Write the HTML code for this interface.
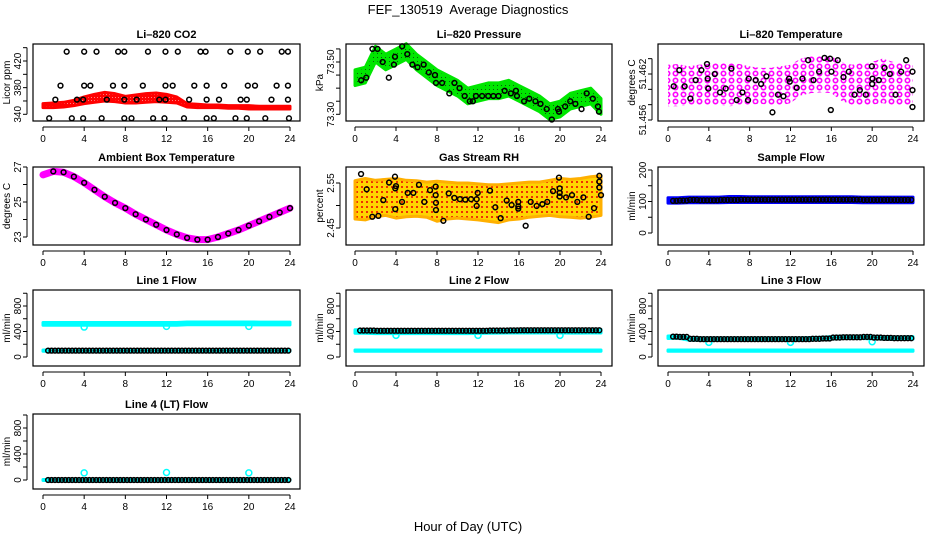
<!DOCTYPE html>
<html><head><meta charset="utf-8"><title>FEF_130519 Average Diagnostics</title>
<style>
html,body{margin:0;padding:0;background:#fff;}
svg{display:block;font-family:"Liberation Sans",Arial,sans-serif;}
.ttl{font-size:11px;font-weight:bold;text-anchor:middle;}
.tk{font-size:10px;text-anchor:middle;}
.yl{font-size:10px;text-anchor:middle;}
</style></head>
<body>
<svg id="chart" width="936" height="540" viewBox="0 0 936 540" xmlns="http://www.w3.org/2000/svg">
<defs>
<pattern id="patGreen" width="4" height="4" patternUnits="userSpaceOnUse"><rect width="4" height="4" fill="#00e600"/><rect x="1" y="1" width="1" height="1" fill="#0a5a0a"/></pattern>
<pattern id="patMag" width="8" height="7" patternUnits="userSpaceOnUse"><rect width="8" height="7" fill="#fff"/><circle cx="3.5" cy="3.5" r="2.2" fill="none" stroke="#ff00ff" stroke-width="1.6"/></pattern>
<pattern id="patRH" width="5" height="5" patternUnits="userSpaceOnUse"><rect width="5" height="5" fill="#ffd400"/><rect x="1" y="1" width="2" height="2" fill="#f03000"/></pattern>
<pattern id="patRed" width="3" height="3" patternUnits="userSpaceOnUse"><rect width="3" height="3" fill="#ff0000"/><rect x="1" y="1" width="1" height="1" fill="#ff8080"/></pattern>
</defs>
<text x="468" y="14" text-anchor="middle" font-size="13">FEF_130519&#160; Average Diagnostics</text>
<text x="468" y="531" text-anchor="middle" font-size="13">Hour of Day (UTC)</text>
</svg>
<script>
// ---------- data ----------
const hourTicks=[0,4,8,12,16,20,24];
const bandHours=[0,1,2,3,4,5,6,7,8,9,10,11,12,13,14,15,16,17,18,19,20,21,22,23,24];
// CO2
const co2BandLo=[350,350,351,353,356,358,360,359,357,357,358,359,358,357,351,350,350,350,349,349,348,348,348,348,348];
const co2BandHi=[356,357,358,361,366,370,373,371,367,369,371,372,370,366,356,355,354,354,353,353,353,352,352,352,352];
const co2TopH=[2.3,4.0,5.2,7.3,7.9,10.2,11.9,13.1,15.3,15.8,18.2,19.9,21.1,23.2,23.8];
const co2MidH=[1.7,4.0,4.6,6.8,7.9,9.7,11.9,12.6,14.7,15.9,17.6,19.9,20.6,22.7,23.8];
const co2LowH=[1.2,3.3,3.9,6.2,7.9,9.1,11.3,11.9,14.2,15.9,17.1,19.2,19.8,22.2,23.8];
const co2BotH=[0.6,2.8,3.9,5.7,7.9,8.6,10.7,11.8,13.7,15.9,16.6,18.7,19.8,21.6,23.9];
const co2Levels=[434,383,362,334];
// Pressure
const presBandCenter=[73.44,73.45,73.53,73.50,73.52,73.54,73.50,73.47,73.44,73.42,73.40,73.37,73.38,73.39,73.39,73.40,73.38,73.36,73.34,73.31,73.32,73.35,73.36,73.37,73.33];
const presBandHalf=0.03;
const presH=[0.6,1.1,1.7,2.2,2.7,3.3,3.8,3.9,4.6,5.1,5.6,6.1,6.7,7.2,7.8,7.9,8.5,9.2,9.7,10.2,10.7,11.2,11.5,11.8,12.4,13.0,13.5,14.0,14.6,15.2,15.7,15.8,16.5,17.0,17.6,18.1,18.7,19.2,19.8,19.9,20.5,21.0,21.5,22.1,22.6,23.2,23.7,23.8];
const presV=[73.43,73.44,73.55,73.55,73.50,73.44,73.49,73.52,73.56,73.53,73.49,73.48,73.49,73.46,73.45,73.42,73.42,73.38,73.42,73.40,73.37,73.35,73.35,73.37,73.37,73.37,73.37,73.37,73.39,73.38,73.39,73.37,73.35,73.36,73.35,73.34,73.32,73.28,73.32,73.31,73.33,73.35,73.34,73.32,73.38,73.36,73.33,73.31];
// Li-820 temperature
const tempBandLo=[51.4578,51.4578,51.4579,51.4580,51.4580,51.4579,51.4578,51.4579,51.4580,51.4581,51.4580,51.4579,51.4582,51.4592,51.4595,51.4596,51.4595,51.4585,51.4580,51.4579,51.4580,51.4582,51.4580,51.4579,51.4580];
const tempBandHi=[51.4632,51.4633,51.4630,51.4632,51.4633,51.4634,51.4634,51.4633,51.4630,51.4628,51.4628,51.4630,51.4632,51.4640,51.4643,51.4644,51.4643,51.4636,51.4632,51.4634,51.4636,51.4640,51.4636,51.4633,51.4632];
const tempH=[0.56,1.11,1.63,2.19,2.71,3.27,3.82,3.89,3.95,4.58,5.10,5.65,6.21,6.73,7.29,7.84,7.91,8.59,9.12,9.64,10.23,10.78,11.31,11.86,11.93,12.61,13.17,13.73,14.25,14.80,15.33,15.88,15.95,16.01,16.63,17.19,17.71,18.27,18.79,19.38,19.97,20.00,20.03,20.65,21.21,21.73,22.29,22.84,23.33,23.95,23.95,23.95];
const tempV=[51.4604,51.4625,51.4604,51.4588,51.4612,51.4625,51.4633,51.4614,51.4601,51.4620,51.4596,51.4601,51.4627,51.4586,51.4596,51.4586,51.4614,51.4612,51.4607,51.4617,51.4570,51.4593,51.4591,51.4614,51.4610,51.4602,51.4614,51.4638,51.4612,51.4623,51.4641,51.4640,51.4573,51.4623,51.4638,51.4616,51.4623,51.4593,51.4599,51.4593,51.4630,51.4607,51.4614,51.4612,51.4628,51.4620,51.4593,51.4623,51.4638,51.4623,51.4599,51.4577];
// Ambient box temperature
const ambTemp=[26.55,26.75,26.7,26.45,26.1,25.7,25.3,24.95,24.65,24.3,24.0,23.7,23.4,23.15,22.95,22.85,22.85,23.0,23.2,23.4,23.65,23.9,24.15,24.4,24.65];
// Gas stream RH
const rhBandLo=[2.470,2.468,2.475,2.478,2.472,2.475,2.476,2.474,2.465,2.470,2.472,2.470,2.468,2.465,2.462,2.468,2.470,2.474,2.476,2.478,2.475,2.474,2.472,2.474,2.478];
const rhBandHi=[2.555,2.560,2.556,2.558,2.560,2.556,2.555,2.552,2.554,2.552,2.550,2.550,2.548,2.546,2.546,2.548,2.550,2.552,2.552,2.556,2.560,2.558,2.560,2.564,2.566];
const rhH=[0.59,1.14,1.69,2.28,2.76,3.32,3.90,3.93,3.93,4.00,4.59,5.14,5.69,6.24,6.76,7.32,7.87,7.87,7.90,7.90,8.62,9.14,9.69,10.24,10.76,11.32,11.87,11.87,11.97,13.17,13.69,14.21,14.80,15.28,15.93,15.93,15.93,16.65,17.14,17.72,18.28,18.76,19.32,19.90,19.97,19.97,19.97,20.59,21.17,21.69,22.28,22.80,23.32,23.84,23.84,23.84,24.0];
const rhV=[2.570,2.536,2.475,2.477,2.512,2.551,2.564,2.538,2.492,2.543,2.508,2.528,2.528,2.546,2.508,2.534,2.542,2.523,2.506,2.490,2.466,2.527,2.517,2.514,2.513,2.514,2.514,2.499,2.528,2.533,2.496,2.472,2.511,2.501,2.508,2.498,2.493,2.455,2.508,2.499,2.503,2.508,2.532,2.562,2.538,2.528,2.520,2.518,2.523,2.508,2.518,2.475,2.494,2.566,2.553,2.540,2.523];
// Sample flow
const sampBandLo=[95,95,96,96,96,96,97,97,97,97,97,97,97,97,97,97,97,97,97,96,96,96,96,96,96];
const sampBandHi=[112,112,114,114,114,114,116,116,115,115,115,115,115,115,115,115,115,115,115,114,114,114,114,114,114];
const sampBlack=[102,103,105,104,104,105,105,106,106,106,106,106,106,106,106,106,106,106,106,105,105,105,105,105,105];
// Line flows
const dipHours=[4,12,20];
const l1High=[520,520,520,520,520,520,520,520,520,520,520,520,520,520,528,528,528,528,528,528,528,525,525,525,525];
const l1Low=[100,100,100,100,100,100,100,100,100,100,100,100,100,100,100,100,100,100,100,100,100,100,100,100,100];
const l1Black=[100,100,100,100,100,100,100,100,100,100,100,100,100,100,100,100,100,100,100,100,100,100,100,100,100];
const l1Dips=[470,480,480];
const l2High=[400,400,395,395,395,395,395,395,395,395,395,395,398,400,402,405,405,405,405,405,405,402,402,405,405];
const l2Low=[100,100,100,100,100,100,100,100,100,100,100,100,100,100,100,100,100,100,100,100,100,100,100,100,100];
const l2Black=[415,415,412,412,412,412,412,412,412,412,412,412,412,415,415,418,420,420,420,420,420,420,420,420,420];
const l2Dips=[340,340,340];
const l3High=[310,315,285,280,280,280,280,280,280,280,280,280,280,280,285,290,300,310,310,310,305,300,295,295,300];
const l3Low=[100,100,100,100,100,100,100,100,100,100,100,100,100,100,100,100,100,100,100,100,100,100,100,100,100];
const l3Black=[320,315,285,280,280,280,280,280,280,280,280,280,280,280,285,290,305,310,310,315,305,300,295,295,305];
const l3Dips=[230,230,240];
const l4High=[0,0,0,0,0,0,0,0,0,0,0,0,0,0,0,0,0,0,0,0,0,0,0,0,0];
const l4Black=[0,0,0,0,0,0,0,0,0,0,0,0,0,0,0,0,0,0,0,0,0,0,0,0,0];
const l4Dips=[110,115,110];

// ---------- drawing ----------
const svg=document.getElementById('chart');
const NS='http://www.w3.org/2000/svg';
function el(tag,attrs,parent){const e=document.createElementNS(NS,tag);for(const k in attrs)e.setAttribute(k,attrs[k]);(parent||svg).appendChild(e);return e;}
const COLS=[{bx0:33,bx1:300,x0:43,x24:290},{bx0:346,bx1:612,x0:355,x24:601},{bx0:658,bx1:924,x0:668,x24:913}];
const ROWS=[{by0:44,by1:121},{by0:167,by1:245},{by0:290,by1:366},{by0:414,by1:489}];

function panel(name,title,ylab,col,row,v1,p1,v2,p2,ticks,labels){
  const C=COLS[col],R=ROWS[row];
  const g=el('g',{});
  
  
  const sx=h=>C.x0+(C.x24-C.x0)*h/24;
  const sy=v=>p1+(v-v1)*(p2-p1)/(v2-v1);
  const t=el('text',{x:(C.bx0+C.bx1)/2,y:R.by0-6,class:'ttl'},g);t.textContent=title;
  
  
  const yl=el('text',{x:0,y:0,class:'yl',transform:`translate(${C.bx0-23},${(R.by0+R.by1)/2}) rotate(-90)`},g);yl.textContent=ylab;
  
  
  const xa=el('g',{},g);
  
  
  el('line',{x1:sx(0),x2:sx(24),y1:R.by1+6,y2:R.by1+6,stroke:'#000','stroke-width':1},xa);
  hourTicks.forEach(h=>{
    el('line',{x1:sx(h),x2:sx(h),y1:R.by1+6,y2:R.by1+10,stroke:'#000','stroke-width':1},xa);
    const tl=el('text',{x:sx(h),y:R.by1+21,class:'tk'},xa);tl.textContent=h;
    
    
  });
  const ya=el('g',{},g);
  
  
  el('line',{x1:C.bx0-6,x2:C.bx0-6,y1:sy(ticks[0]),y2:sy(ticks[ticks.length-1]),stroke:'#000','stroke-width':1},ya);
  ticks.forEach(v=>{el('line',{x1:C.bx0-10,x2:C.bx0-6,y1:sy(v),y2:sy(v),stroke:'#000','stroke-width':1},ya);});
  labels.forEach(l=>{
    const tl=el('text',{x:0,y:0,class:'tk',transform:`translate(${C.bx0-12},${sy(l[0])}) rotate(-90)`},ya);tl.textContent=l[1];
    
    
  });
  const plot=el('g',{},g);
  
  
  const box=el('rect',{x:C.bx0,y:R.by0,width:C.bx1-C.bx0,height:R.by1-R.by0,fill:'none',stroke:'#000','stroke-width':1.2},g);
  
  
  return {sx,sy,plot};
}
function band(P,hours,lo,hi,fill,stroke,name){
  let pts=hours.map((h,i)=>P.sx(h)+','+P.sy(hi[i]));
  for(let i=hours.length-1;i>=0;i--)pts.push(P.sx(hours[i])+','+P.sy(lo[i]));
  const b=el('polygon',{points:pts.join(' '),fill:fill,stroke:stroke,'stroke-width':3,'stroke-linejoin':'round'},P.plot);
  
  
}
function dot(P,h,v,color,name,r){
  const c=el('circle',{cx:P.sx(h),cy:P.sy(v),r:r||2.4,fill:'none',stroke:color,'stroke-width':1.5},P.plot);
  
  
}
function stepDots(P,vals,color,name){
  for(let k=0;k<71;k++){const h=0.5+k/3;if(h>23.9)break;dot(P,h,vals[Math.floor(h)],color,name);}
}

let P=panel('co2','Li\u2013820 CO2','Licor ppm',0,0,340,114.3,420,61,[340,360,380,400,420,440],[[340,'340'],[380,'380'],[420,'420']]);
band(P,bandHours,co2BandLo,co2BandHi,'url(#patRed)','#ff0000','co2-band');
[co2TopH,co2MidH,co2LowH,co2BotH].forEach((arr,j)=>arr.forEach(h=>dot(P,h,co2Levels[j],'#000','co2-point')));

P=panel('pressure','Li\u2013820 Pressure','kPa',1,0,73.30,114.3,73.50,62,[73.30,73.35,73.40,73.45,73.50,73.55],[[73.30,'73.30'],[73.50,'73.50']]);
band(P,bandHours,presBandCenter.map(v=>v-presBandHalf),presBandCenter.map(v=>v+presBandHalf),'url(#patGreen)','#00e600','pressure-band');
presH.forEach((h,i)=>dot(P,h,presV[i],'#000','pressure-point'));

P=panel('li820-temp','Li\u2013820 Temperature','degrees C',2,0,51.456,120,51.462,74,[51.456,51.458,51.460,51.462,51.464],[[51.456,'51.456'],[51.462,'51.462']]);
band(P,bandHours,tempBandLo,tempBandHi,'url(#patMag)','none','li820-temp-band');
tempH.forEach((h,i)=>dot(P,h,tempV[i],'#000','li820-temp-point'));

P=panel('ambient-temp','Ambient Box Temperature','degrees C',0,1,27,167,23,237,[23,24,25,26,27],[[23,'23'],[25,'25'],[27,'27']]);
{const pl=el('polyline',{points:bandHours.map((h,i)=>P.sx(h)+','+P.sy(ambTemp[i])).join(' '),fill:'none',stroke:'#ff00ff','stroke-width':7,'stroke-linejoin':'round','stroke-linecap':'round'},P.plot);

}
bandHours.forEach((h,i)=>{if(h>0)dot(P,h,ambTemp[i],'#000','ambient-temp-point');});

P=panel('gas-rh','Gas Stream RH','percent',1,1,2.55,183,2.45,228,[2.45,2.50,2.55],[[2.45,'2.45'],[2.55,'2.55']]);
band(P,bandHours,rhBandLo,rhBandHi,'url(#patRH)','#ffb000','gas-rh-band');
rhH.forEach((h,i)=>dot(P,h,rhV[i],'#000','gas-rh-point'));

P=panel('sample-flow','Sample Flow','ml/min',2,1,0,233,200,170,[0,50,100,150,200],[[0,'0'],[100,'100'],[200,'200']]);
band(P,bandHours,sampBandLo,sampBandHi,'#0000ff','#0000ff','sample-flow-band');
stepDots(P,sampBlack,'#000','sample-flow-point');

const flowTicks=[0,200,400,600,800,1000],flowLabels=[[0,'0'],[400,'400'],[800,'800']];
function flowPanel(name,title,col,row,p0,p800,hi,hw,lo,blk,dips){
  const Q=panel(name,title,'ml/min',col,row,0,p0,800,p800,flowTicks,flowLabels);
  band(Q,bandHours,hi.map(v=>v-hw),hi.map(v=>v+hw),'#00ffff','#00ffff',name+'-band-high');
  if(lo)band(Q,bandHours,lo.map(v=>v-10),lo.map(v=>v+10),'#00ffff','#00ffff',name+'-band-low');
  dipHours.forEach((h,i)=>dot(Q,h,dips[i],'#00ffff',name+'-dip-point',3));
  stepDots(Q,blk,'#000',name+'-point');
}
flowPanel('line1-flow','Line 1 Flow',0,2,357,306,l1High,22,l1Low,l1Black,l1Dips);
flowPanel('line2-flow','Line 2 Flow',1,2,357,306,l2High,28,l2Low,l2Black,l2Dips);
flowPanel('line3-flow','Line 3 Flow',2,2,357,306,l3High,20,l3Low,l3Black,l3Dips);
flowPanel('line4-flow','Line 4 (LT) Flow',0,3,480,428,l4High,8,null,l4Black,l4Dips);
</script>
</body></html>
